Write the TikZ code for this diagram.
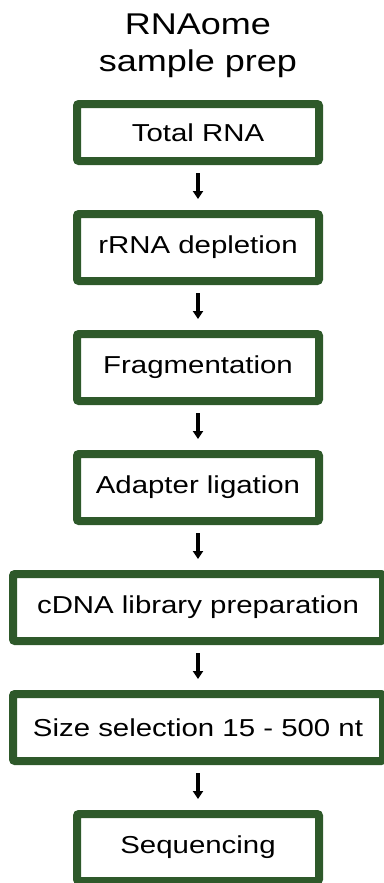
\documentclass[tikz,border=0pt]{standalone}
\usepackage{fontspec}
\setmainfont{Liberation Sans}[FakeStretch=1.2]
\usepackage{tikz}
\usetikzlibrary{arrows.meta,positioning}
\definecolor{boxgreen}{RGB}{46,89,42}
\tikzset{
    %Define standard arrow tip
    >={Triangle[length=8pt,width=10pt]},
    %Define style for boxes
    stepbox/.style={
           rectangle,
           rounded corners=2pt,
           draw=boxgreen,
           line width=8pt,
           fill=white,
           minimum width=242pt,
           minimum height=67pt,
           font=\fontsize{24.5}{29}\selectfont,
           text centered,
           },
    widebox/.style={
           stepbox,
           minimum width=370pt,
           },
    % Define arrow style
    pil/.style={
           ->,
           line width=4pt,
           shorten <=8pt,
           shorten >=11pt,},
}
\begin{document}
\begin{tikzpicture}[node distance=45pt,x=1pt,y=1pt,node/.style={stepbox},wd/.style={widebox}]
\useasboundingbox (0,0) rectangle (383,-883);
\node[font=\fontsize{30}{37}\selectfont,align=center,anchor=north] (title) at (198,-10) {RNAome\\sample prep};
\node[node,minimum height=57pt] (1) at (198,-132.5) {Total RNA};
\node[node, below=of 1](2){rRNA depletion};
\node[node, below=of 2](3){Fragmentation};
\node[node, below=of 3](4){Adapter ligation};
\node[wd, below=of 4](5){cDNA library preparation};
\node[wd, below=of 5](6){Size selection 15 - 500 nt};
\node[node, below=of 6](7){Sequencing};
\path[pil]
	(1) edge (2)
	(2) edge (3)
	(3) edge (4)
	(4) edge (5)
	(5) edge (6)
	(6) edge (7);
\end{tikzpicture}
\end{document}
